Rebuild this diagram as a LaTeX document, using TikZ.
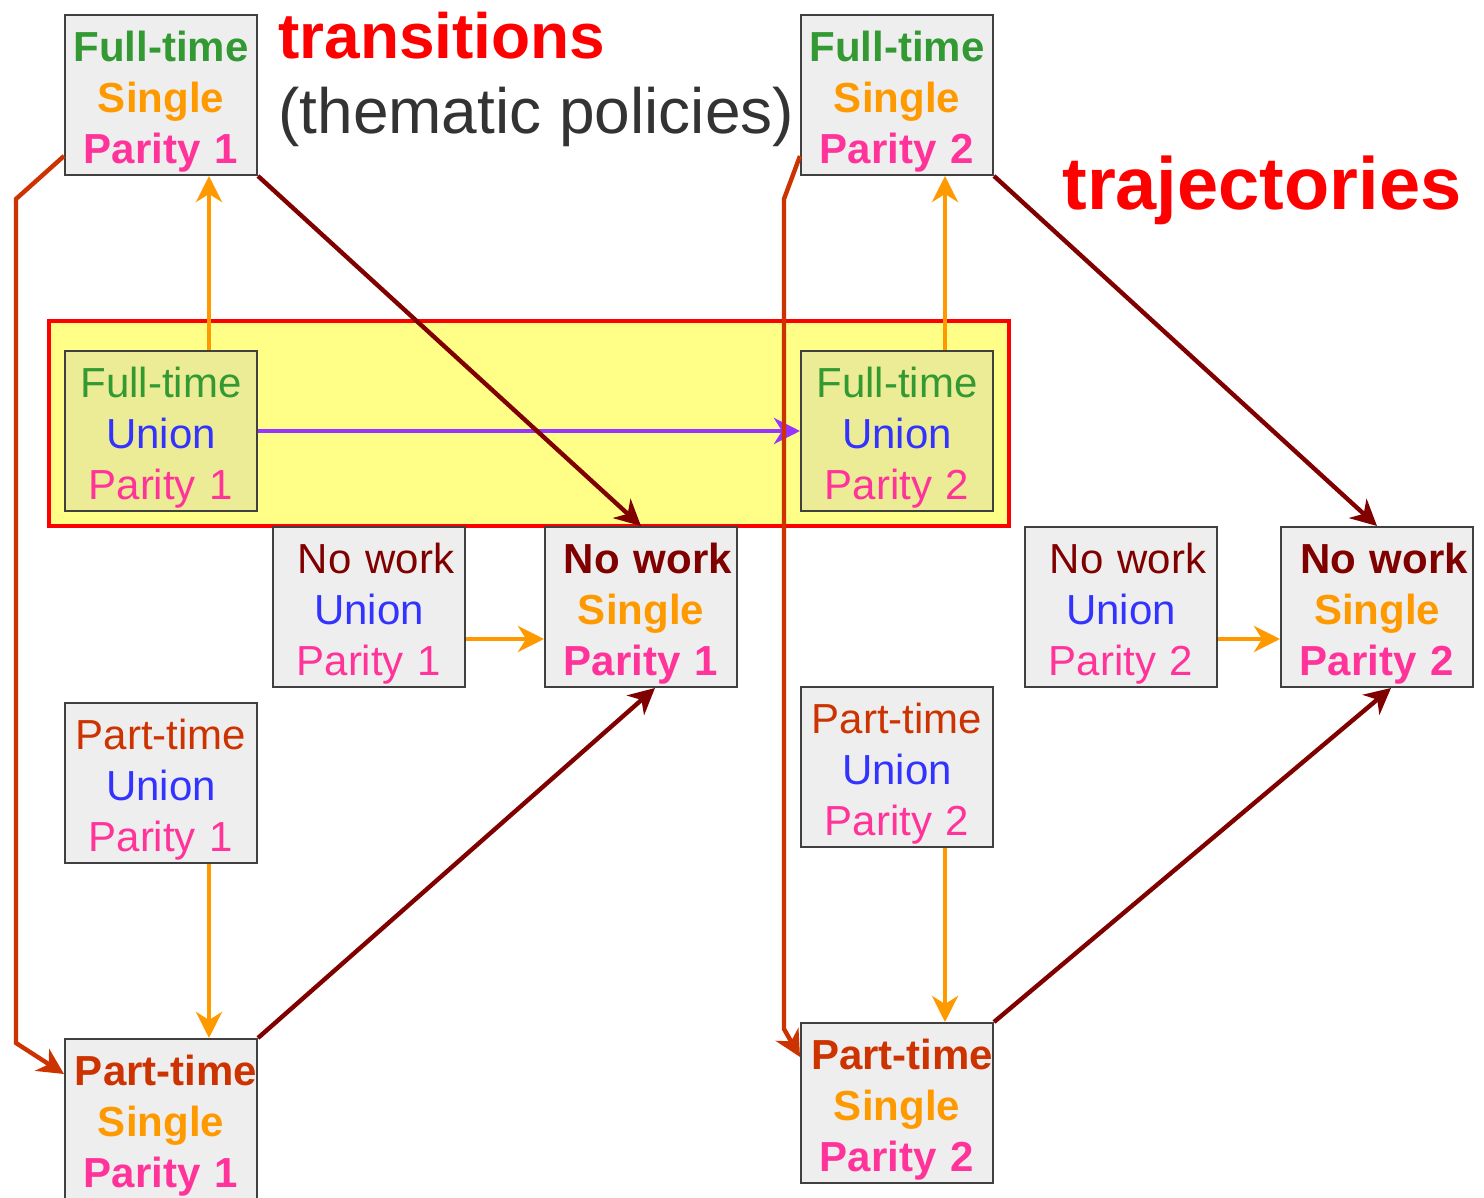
\documentclass[tikz,border=0pt]{standalone}
\usepackage{fontspec}
\setmainfont{Liberation Sans}
\usetikzlibrary{arrows.meta}

\definecolor{ftgreen}{RGB}{51,153,51}
\definecolor{sgorange}{RGB}{255,153,0}
\definecolor{parpink}{RGB}{255,51,153}
\definecolor{unblue}{RGB}{51,51,255}
\definecolor{nwred}{RGB}{128,0,0}
\definecolor{ptred}{RGB}{204,51,0}
\definecolor{violetline}{RGB}{153,51,255}
\definecolor{bandyellow}{RGB}{255,255,136}
\definecolor{boxgray}{RGB}{238,238,238}
\definecolor{bandbox}{RGB}{236,236,150}
\definecolor{notegray}{RGB}{51,51,51}

% lines of text in the boxes
\newcommand{\topstrut}{\rule{0pt}{21.5pt}}
\newcommand{\ftB}{\topstrut\textcolor{ftgreen}{\bfseries Full-time}}
\newcommand{\ftR}{\topstrut\textcolor{ftgreen}{Full-time}}
\newcommand{\ptB}{\topstrut\mbox{\hspace*{5pt}\textcolor{ptred}{\bfseries Part-time}}}
\newcommand{\ptR}{\topstrut\textcolor{ptred}{Part-time}}
\newcommand{\nwB}{\topstrut\hspace*{7pt}\textcolor{nwred}{\bfseries No work}}
\newcommand{\nwR}{\topstrut\hspace*{7pt}\textcolor{nwred}{No work}}
\newcommand{\sgB}{\textcolor{sgorange}{\bfseries Single}}
\newcommand{\unR}{\textcolor{unblue}{Union}}
\newcommand{\parB}[1]{\textcolor{parpink}{\bfseries Parity #1}}
\newcommand{\parR}[1]{\textcolor{parpink}{Parity #1}}

\begin{document}
\begin{tikzpicture}[x=0.5pt,y=-0.5pt,
  stbox/.style={draw=black!75, line width=1pt, fill=boxgray, minimum width=96pt,
    text width=96pt, minimum height=80pt, inner sep=0pt, align=center,
    font=\fontsize{21}{25.5}\selectfont},
  inband/.style={stbox, fill=bandbox},
  arr/.style={-{Stealth[length=13pt,width=13pt,inset=4pt]}, line width=2.2pt},
  note/.style={anchor=base west, inner sep=0pt}]
\useasboundingbox (0,0) rectangle (1484,1198);

% policy band
\draw[draw=red, line width=2pt, fill=bandyellow] (49,321) rectangle (1009,526);

\node[stbox] (FS1) at (161,95) {\ftB\\\sgB\\\parB{1}};
\node[stbox] (FS2) at (897,95) {\ftB\\\sgB\\\parB{2}};
\node[inband] (FU1) at (161,431) {\ftR\\\unR\\\parR{1}};
\node[inband] (FU2) at (897,431) {\ftR\\\unR\\\parR{2}};
\node[stbox] (NU1) at (369,607) {\nwR\\\unR\\\parR{1}};
\node[stbox] (NS1) at (641,607) {\nwB\\\sgB\\\parB{1}};
\node[stbox] (NU2) at (1121,607) {\nwR\\\unR\\\parR{2}};
\node[stbox] (NS2) at (1377,607) {\nwB\\\sgB\\\parB{2}};
\node[stbox] (PU1) at (161,783) {\ptR\\\unR\\\parR{1}};
\node[stbox] (PU2) at (897,767) {\ptR\\\unR\\\parR{2}};
\node[stbox] (PS1) at (161,1119) {\ptB\\\sgB\\\parB{1}};
\node[stbox] (PS2) at (897,1103) {\ptB\\\sgB\\\parB{2}};

\node[note, font=\fontsize{32}{38}\selectfont\bfseries, text=red] (trans) at (278,59) {transitions};
\node[note, font=\fontsize{32}{38}\selectfont, text=notegray] (thema) at (278,134) {(thematic policies)};
\node[note, font=\fontsize{37}{44}\selectfont\bfseries, text=red] (traj) at (1062,210) {trajectories};

% union -> single
\draw[arr, sgorange] ([xshift=24pt]FU1.north) -- ([xshift=24pt]FS1.south);
\draw[arr, sgorange] ([xshift=24pt]FU2.north) -- ([xshift=24pt]FS2.south);
\draw[arr, sgorange] ([xshift=24pt]PU1.south) -- ([xshift=24pt]PS1.north);
\draw[arr, sgorange] ([xshift=24pt]PU2.south) -- ([xshift=24pt]PS2.north);
\draw[arr, sgorange] ([yshift=-16pt]NU1.east) -- ([yshift=-16pt]NS1.west);
\draw[arr, sgorange] ([yshift=-16pt]NU2.east) -- ([yshift=-16pt]NS2.west);

% parity
\draw[arr, violetline] (FU1.east) -- (FU2.west);

% trajectories
\draw[arr, nwred] (FS1.south east) -- (NS1.north);
\draw[arr, nwred] (FS2.south east) -- (NS2.north);
\draw[arr, nwred] (PS1.north east) -- ([xshift=7pt]NS1.south);
\draw[arr, nwred] (PS2.north east) -- ([xshift=7pt]NS2.south);
\draw[arr, ptred] ([yshift=10pt]FS1.south west) -- ++(-48,43) -- ++(0,844)
  -- ([yshift=-18pt]PS1.north west);
\draw[arr, ptred] ([yshift=10pt]FS2.south west) -- ++(-16,43) -- ++(0,830)
  -- ([yshift=-17.5pt]PS2.north west);
\end{tikzpicture}
\end{document}
